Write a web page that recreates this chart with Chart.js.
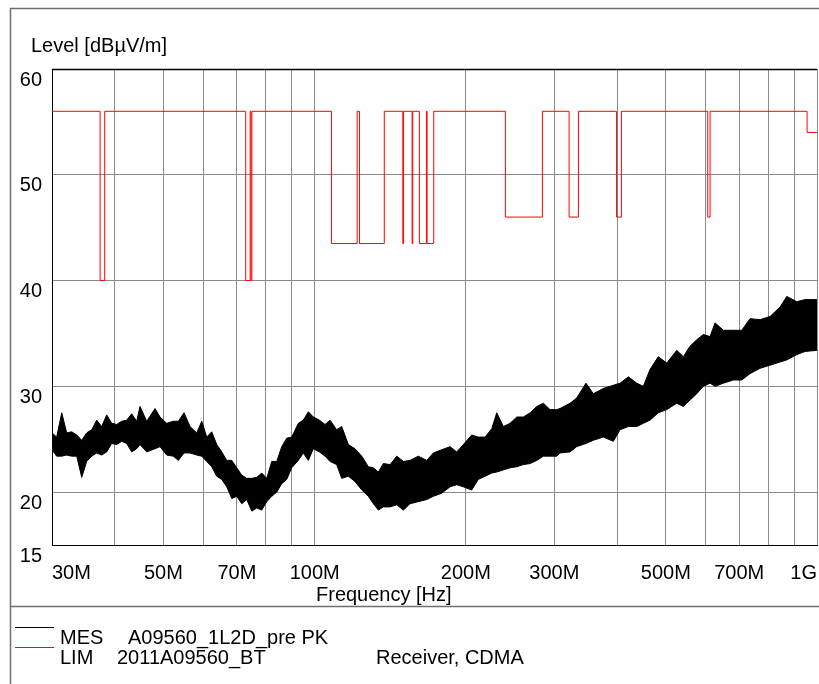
<!DOCTYPE html>
<html>
<head>
<meta charset="utf-8">
<script src="https://cdn.jsdelivr.net/npm/chart.js@4.4.0/dist/chart.umd.min.js"></script>
<style>
  body { margin: 0; background: #fff; }
  #wrap { width: 819px; height: 684px; }
</style>
</head>
<body>
<div id="wrap"><canvas id="chart" width="819" height="684"></canvas></div>
<script>
const FONT = "'Liberation Sans', Arial, Helvetica, sans-serif";

const mesFreq = [30, 30.65, 31.37, 32.09, 32.83, 33.6, 34.38, 35.17, 35.99, 36.82,
  37.67, 38.55, 39.44, 40.36, 41.3, 42.25, 43.23, 44.23, 44.91, 46.31,
  48.11, 49.22, 50.76, 52.32, 53.53, 54.95, 56.48, 58.25, 59.6, 60.97,
  62.39, 63.84, 65.32, 66.84, 68.39, 69.98, 71.6, 73.25, 74.96, 76.69,
  78.47, 80.28, 82.14, 84.05, 85.99, 87.98, 90.02, 92.77, 94.93, 97.14,
  99.39, 102.2, 104.9, 107.3, 110.6, 113.2, 116.7, 120.3, 124.1, 127.9,
  130.9, 133.9, 137, 141.3, 145.7, 150.2, 154.8, 160.8, 167.2, 172.3,
  179, 186, 191.8, 197.7, 205.4, 211.7, 218.4, 225.2, 230.4, 237.5,
  244.9, 252.6, 260.3, 268.5, 276.8, 285.3, 294.1, 303.3, 307.9, 322.4,
  332.4, 346.9, 358.7, 375.6, 393.2, 405.5, 421.1, 437.7, 451.1, 465.2,
  483.2, 502.2, 525.8, 542, 558.8, 576.3, 593.9, 612.5, 626.7, 651,
  681.6, 708.3, 735.6, 770, 806.3, 844.3, 870.7, 911.7, 946.8, 1000];
const mesHigh = [25.6, 25.2, 27.5, 25.6, 25.7, 25.4, 24.9, 25.6, 25.9, 26.8,
  26.2, 27.3, 26.5, 26.4, 26.7, 26.8, 27.4, 26.7, 28.1, 26.7,
  27.9, 27.1, 26.5, 26.7, 26.7, 27.5, 26.2, 25.6, 26.7, 25.2,
  25.7, 24.5, 23.8, 23.0, 23.0, 22.3, 21.6, 21.3, 21.3, 21.4,
  21.8, 21.3, 22.9, 22.9, 24.3, 25.1, 25.2, 26.5, 26.8, 27.6,
  27.1, 26.8, 26.4, 26.8, 25.9, 26.2, 24.5, 24.1, 23.4, 22.4,
  22.3, 21.9, 22.7, 22.6, 23.4, 22.9, 23.0, 23.4, 23.0, 23.7,
  24.0, 24.3, 23.8, 24.5, 25.4, 25.2, 25.2, 26.0, 27.5, 26.2,
  26.5, 27.1, 27.1, 27.5, 28.1, 28.4, 27.8, 27.8, 27.9, 28.4,
  28.9, 30.3, 29.3, 29.8, 30.1, 30.3, 30.9, 30.3, 30.0, 31.6,
  32.8, 32.2, 33.4, 32.8, 33.8, 34.4, 34.9, 34.7, 36.0, 35.3,
  35.3, 35.3, 36.4, 36.3, 36.6, 37.5, 38.5, 38.0, 38.2, 38.2];
const mesLow = [24.0, 23.4, 23.4, 23.5, 23.4, 23.4, 21.4, 22.9, 23.4, 23.7,
  23.5, 23.8, 24.6, 24.5, 24.8, 24.6, 23.8, 24.1, 24.5, 23.8,
  24.1, 24.3, 23.5, 23.4, 23.0, 23.7, 23.7, 23.5, 23.4, 22.9,
  22.4, 21.5, 21.2, 20.5, 19.4, 19.6, 18.9, 19.3, 18.2, 18.5,
  18.3, 19.1, 19.6, 20.0, 20.8, 21.2, 22.3, 23.0, 23.7, 23.0,
  24.1, 23.8, 23.4, 22.9, 22.6, 21.3, 21.5, 21.0, 20.2, 19.6,
  18.9, 18.3, 18.6, 18.6, 18.8, 18.3, 18.9, 19.1, 19.3, 19.6,
  19.9, 20.5, 20.7, 20.5, 20.2, 21.2, 21.5, 21.8, 21.9, 22.1,
  22.3, 22.4, 22.6, 22.7, 23.0, 23.4, 23.4, 23.4, 23.7, 23.8,
  24.3, 24.6, 24.9, 25.2, 24.8, 25.9, 26.2, 26.2, 26.5, 26.8,
  27.5, 27.8, 28.4, 28.1, 28.7, 29.3, 30.0, 30.3, 30.0, 30.3,
  30.6, 30.6, 31.2, 31.7, 32.0, 32.3, 32.5, 33.0, 33.3, 33.4];

// LIM limit line: each level holds from its start frequency to the next one
const limFreq = [30, 37.4, 38.2, 72.9, 74.4, 74.7, 75.0, 108, 121.5, 122.8,
  137.6, 149.8, 150.3, 156.3, 156.8, 161.6, 166.9, 167.4, 172.6, 239.7,
  284, 321, 335, 399, 408, 606, 612.6, 955.6, 1000];
const limLevel = [56, 40, 56, 40, 56, 40, 56, 43.5, 56, 43.5,
  56, 43.5, 56, 43.5, 56, 43.5, 56, 43.5, 56, 46,
  56, 46, 56, 46, 56, 46, 56, 54, 54];

const xGridValues = [30, 40, 50, 60, 70, 80, 90, 100, 200, 300, 400, 500, 600, 700, 800, 900, 1000];
const xTickValues = [30, 50, 70, 100, 200, 300, 500, 700, 1000];
const xTickLabels = ['30M', '50M', '70M', '100M', '200M', '300M', '500M', '700M', '1G'];
const yTickValues = [15, 20, 30, 40, 50, 60];

const yTitle = 'Level [dBµV/m]';
const xTitle = 'Frequency [Hz]';
const legendNames = ['MES', 'LIM'];
const legendFiles = ['A09560_1L2D_pre PK', '2011A09560_BT'];
const legendNote = 'Receiver, CDMA';

const toPoints = (xs, ys) => xs.map((x, i) => ({ x: x, y: ys[i] }));
const gridColor = '#8a8a8a';

// frame, titles and the legend block underneath
const frame = {
  id: 'frame',
  beforeDraw(chart) {
    const c = chart.ctx;
    c.save();
    c.fillStyle = '#fff';
    c.fillRect(0, 0, chart.width, chart.height);
    c.strokeStyle = '#6f6f6f';
    c.lineWidth = 1.5;
    c.beginPath();
    c.moveTo(10.5, chart.height);
    c.lineTo(10.5, 8.5);
    c.lineTo(chart.width, 8.5);
    c.moveTo(10.5, 606.5);
    c.lineTo(chart.width, 606.5);
    c.stroke();
    c.restore();
  },
  afterDraw(chart) {
    const c = chart.ctx, a = chart.chartArea;
    c.save();
    c.strokeStyle = '#000';
    c.lineWidth = 1.5;
    c.beginPath();
    c.moveTo(a.left, a.top + 0.5);
    c.lineTo(a.right, a.top + 0.5);
    c.stroke();

    c.fillStyle = '#000';
    c.font = '20px ' + FONT;
    c.textBaseline = 'alphabetic';
    c.fillText(yTitle, 31, 52);
    c.fillText(xTitle, 316, 601);

    const colors = [chart.data.datasets[0].borderColor, chart.data.datasets[2].borderColor];
    const lineY = [627, 647];
    const textY = [644, 664];
    const fileX = [128, 117];
    legendNames.forEach((name, i) => {
      c.strokeStyle = colors[i];
      c.lineWidth = 1;
      c.beginPath();
      c.moveTo(15, lineY[i] + 0.5);
      c.lineTo(54, lineY[i] + 0.5);
      c.stroke();
      c.fillText(name, 60, textY[i]);
      c.fillText(legendFiles[i], fileX[i], textY[i]);
    });
    c.fillText(legendNote, 376, textY[1]);
    c.restore();
  }
};

new Chart(document.getElementById('chart'), {
  type: 'line',
  data: {
    datasets: [{
      label: 'MES high',
      data: toPoints(mesFreq, mesHigh),
      borderColor: '#000',
      backgroundColor: '#000',
      borderWidth: 1,
      pointRadius: 0,
      fill: '+1'
    }, {
      label: 'MES low',
      data: toPoints(mesFreq, mesLow),
      borderColor: '#000',
      borderWidth: 1,
      pointRadius: 0,
      fill: false
    }, {
      label: 'LIM',
      data: toPoints(limFreq, limLevel),
      borderColor: '#ff0000',
      borderWidth: 1,
      pointRadius: 0,
      stepped: 'before',
      fill: false
    }]
  },
  options: {
    responsive: false,
    animation: false,
    events: [],
    layout: { padding: { top: 69, right: 2, left: 0, bottom: 0 } },
    plugins: { legend: { display: false }, tooltip: { enabled: false } },
    scales: {
      x: {
        type: 'logarithmic',
        min: 30,
        max: 1000,
        afterBuildTicks: s => { s.ticks = xGridValues.map(v => ({ value: v })); },
        afterFit: s => { s.height = 139; s.paddingLeft = 0; s.paddingRight = 0; },
        grid: { color: gridColor, lineWidth: 1, drawTicks: false },
        border: { color: '#000', width: 1 },
        ticks: {
          autoSkip: false,
          maxRotation: 0,
          minRotation: 0,
          align: 'inner',
          padding: 16,
          color: '#000',
          font: { family: FONT, size: 20 },
          callback: v => {
            const i = xTickValues.indexOf(v);
            return i >= 0 ? xTickLabels[i] : '';
          }
        }
      },
      y: {
        min: 15,
        max: 60,
        afterBuildTicks: s => { s.ticks = yTickValues.map(v => ({ value: v })); },
        afterFit: s => { s.width = 52; s.paddingTop = 0; s.paddingBottom = 0; },
        grid: { color: gridColor, lineWidth: 1, drawTicks: false },
        border: { color: '#000', width: 1 },
        ticks: {
          padding: 10,
          labelOffset: 11,
          color: '#000',
          font: { family: FONT, size: 20 }
        }
      }
    }
  },
  plugins: [frame]
});
</script>
</body>
</html>
